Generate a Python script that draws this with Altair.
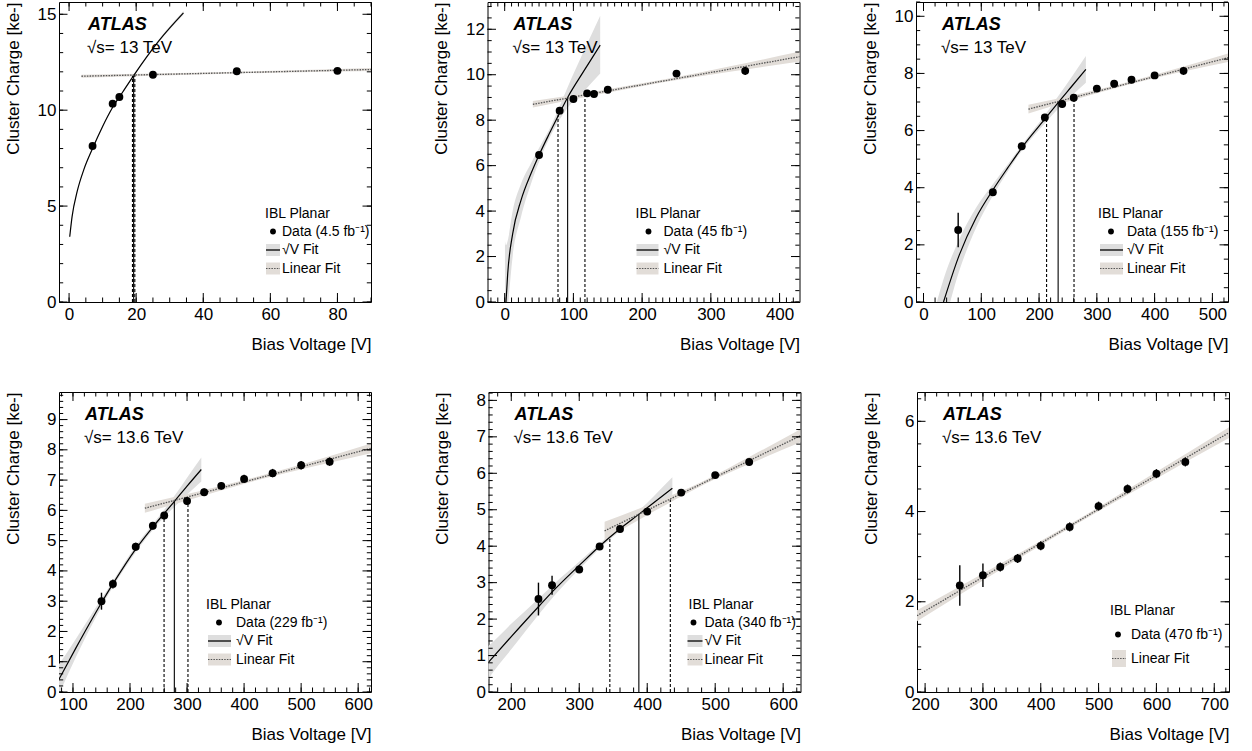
import altair as alt
import numpy as np
import pandas as pd

FONT = "Liberation Sans"
W, H = 312, 300
SQ_BAND = "#dedede"
LIN_BAND = "#e2ddd8"
LIN_LINE = "#555555"

# ---------------- Panel 1 (13 TeV, 4.5 fb-1) ----------------
P1_V = [7, 13, 15, 25, 50, 80]
P1_Q = [8.13, 10.34, 10.69, 11.85, 12.03, 12.05]
P1_ERR = [0.08, 0.08, 0.08, 0.08, 0.08, 0.08]
P1_SQ_V = [0.2, 0.9, 2.4, 4.4, 7, 10, 13, 16, 19.5, 26.7, 34.1]
P1_SQ_Q = [3.4, 4.45, 5.75, 6.9, 8.0, 9.15, 10.15, 10.95, 11.87, 13.6, 15.07]
P1_SQB_V = [0.2, 0.9, 2.4, 4.4, 7, 10, 13, 16, 19.5, 26.7, 34.1]
P1_SQB_LO = [3.3, 4.37, 5.69, 6.85, 7.96, 9.11, 10.11, 10.91, 11.82, 13.53, 14.97]
P1_SQB_HI = [3.5, 4.53, 5.81, 6.95, 8.04, 9.19, 10.19, 10.99, 11.92, 13.67, 15.17]
P1_LIN_V = [3.7, 90]
P1_LIN_Q = [11.77, 12.12]
P1_LINB_V = [3.7, 47, 90]
P1_LINB_LO = [11.69, 11.9, 12.04]
P1_LINB_HI = [11.85, 11.99, 12.2]
P1_VL_V = [18.9, 19.25, 19.6]
P1_VL_TOP = [11.8, 11.84, 11.85]
P1_VL_STYLE = ["dotted", "solid", "dotted"]

# ---------------- Panel 2 (13 TeV, 45 fb-1) ----------------
P2_V = [50, 80, 100, 120, 130, 150, 250, 350]
P2_Q = [6.47, 8.42, 8.93, 9.18, 9.15, 9.34, 10.05, 10.17]
P2_ERR = [0.1, 0.1, 0.1, 0.12, 0.1, 0.1, 0.12, 0.18]
P2_SQ_V = [1.9, 4.4, 11.6, 23.8, 38.3, 50.4, 65, 80.5, 91.6, 116, 139]
P2_SQ_Q = [0, 1.25, 3.0, 4.48, 5.65, 6.49, 7.41, 8.35, 9.0, 10.2, 11.3]
P2_SQB_V = [0.4, 1.9, 4.4, 11.6, 23.8, 38.3, 50.4, 65, 80.5, 91.6, 116, 139]
P2_SQB_LO = [-1.0, -1.0, -0.3, 2.0, 3.75, 5.2, 6.2, 7.2, 8.05, 8.55, 9.3, 10.05]
P2_SQB_HI = [2.7, 2.5, 2.7, 4.0, 5.2, 6.1, 6.8, 7.6, 8.65, 9.45, 11.1, 12.6]
P2_LIN_V = [41, 430]
P2_LIN_Q = [8.7, 10.8]
P2_LINB_V = [41, 140, 235, 330, 430]
P2_LINB_LO = [8.56, 9.15, 9.69, 10.14, 10.58]
P2_LINB_HI = [8.84, 9.31, 9.81, 10.38, 11.02]
P2_VL_V = [77.6, 91.6, 116.8]
P2_VL_TOP = [8.22, 9.02, 9.05]
P2_VL_STYLE = ["dotted", "solid", "dotted"]

# ---------------- Panel 3 (13 TeV, 155 fb-1) ----------------
P3_V = [60, 120, 170, 210, 240, 260, 300, 330, 360, 400, 450]
P3_Q = [2.52, 3.84, 5.45, 6.46, 6.93, 7.15, 7.47, 7.64, 7.78, 7.93, 8.09]
P3_ERR = [0.6, 0.1, 0.12, 0.12, 0.12, 0.12, 0.12, 0.12, 0.12, 0.12, 0.14]
P3_SQ_V = [34.6, 62, 91, 121, 146, 172, 212, 233, 257, 281]
P3_SQ_Q = [0, 1.65, 2.95, 3.95, 4.7, 5.45, 6.45, 6.98, 7.56, 8.14]
P3_SQB_V = [23, 34.6, 62, 91, 121, 146, 172, 212, 233, 257, 281]
P3_SQB_LO = [-1.5, -0.8, 1.1, 2.6, 3.75, 4.58, 5.35, 6.3, 6.76, 7.23, 7.67]
P3_SQB_HI = [0.0, 0.8, 2.2, 3.3, 4.15, 4.82, 5.55, 6.6, 7.2, 7.89, 8.61]
P3_LIN_V = [181.6, 527]
P3_LIN_Q = [6.75, 8.55]
P3_LINB_V = [181.6, 268, 354, 440, 527]
P3_LINB_LO = [6.6, 7.12, 7.6, 8.02, 8.4]
P3_LINB_HI = [6.9, 7.28, 7.7, 8.18, 8.7]
P3_VL_V = [213, 233, 260.5]
P3_VL_TOP = [6.45, 7.0, 7.15]
P3_VL_STYLE = ["dotted", "solid", "dotted"]

# ---------------- Panel 4 (13.6 TeV, 229 fb-1) ----------------
P4_V = [150, 170, 210, 240, 260, 300, 330, 360, 400, 450, 500, 550]
P4_Q = [3.0, 3.57, 4.8, 5.49, 5.83, 6.31, 6.6, 6.81, 7.04, 7.23, 7.49, 7.61]
P4_ERR = [0.28, 0.15, 0.13, 0.12, 0.12, 0.13, 0.12, 0.12, 0.14, 0.14, 0.14, 0.14]
P4_SQ_V = [70, 75.5, 105, 134, 150, 170, 210, 240, 260, 278, 300, 325]
P4_SQ_Q = [0.23, 0.42, 1.45, 2.43, 2.95, 3.57, 4.72, 5.45, 5.9, 6.3, 6.8, 7.35]
P4_SQB_V = [70, 75.5, 105, 134, 150, 170, 210, 240, 260, 278, 300, 325]
P4_SQB_LO = [-0.32, -0.08, 1.15, 2.25, 2.82, 3.47, 4.62, 5.35, 5.78, 6.12, 6.52, 6.95]
P4_SQB_HI = [0.78, 0.92, 1.75, 2.61, 3.08, 3.67, 4.82, 5.55, 6.02, 6.48, 7.08, 7.75]
P4_LIN_V = [226, 622.5]
P4_LIN_Q = [6.07, 8.05]
P4_LINB_V = [226, 325, 424, 523, 622.5]
P4_LINB_LO = [5.92, 6.47, 7.0, 7.46, 7.89]
P4_LINB_HI = [6.22, 6.65, 7.12, 7.64, 8.21]
P4_VL_V = [259.7, 277.7, 301.6]
P4_VL_TOP = [5.85, 6.33, 6.3]
P4_VL_STYLE = ["dotted", "solid", "dotted"]

# ---------------- Panel 5 (13.6 TeV, 340 fb-1) ----------------
P5_V = [240, 260, 300, 330, 360, 400, 450, 500, 550]
P5_Q = [2.55, 2.93, 3.36, 3.99, 4.47, 4.95, 5.47, 5.95, 6.31]
P5_ERR = [0.45, 0.26, 0.08, 0.08, 0.08, 0.08, 0.08, 0.08, 0.08]
P5_SQ_V = [160, 166.6, 200, 241, 262, 301.5, 331, 360, 388, 410, 437]
P5_SQ_Q = [0.68, 0.82, 1.52, 2.36, 2.78, 3.5, 4.02, 4.48, 4.88, 5.2, 5.59]
P5_SQB_V = [160, 166.6, 200, 241, 262, 301.5, 331, 360, 388, 410, 437]
P5_SQB_LO = [0.18, 0.37, 1.17, 2.14, 2.61, 3.4, 3.95, 4.42, 4.78, 5.02, 5.29]
P5_SQB_HI = [1.18, 1.27, 1.87, 2.58, 2.95, 3.6, 4.09, 4.54, 4.98, 5.38, 5.89]
P5_LIN_V = [337.3, 625.5]
P5_LIN_Q = [4.42, 7.03]
P5_LINB_V = [337.3, 409.3, 481.4, 553.4, 625.5]
P5_LINB_LO = [4.17, 4.95, 5.675, 6.28, 6.85]
P5_LINB_HI = [4.67, 5.19, 5.775, 6.48, 7.21]
P5_VL_V = [345, 387.7, 434]
P5_VL_TOP = [4.2, 4.88, 5.28]
P5_VL_STYLE = ["dotted", "solid", "dotted"]

# ---------------- Panel 6 (13.6 TeV, 470 fb-1) ----------------
P6_V = [260, 300, 330, 360, 400, 450, 500, 550, 600, 650]
P6_Q = [2.36, 2.59, 2.77, 2.96, 3.24, 3.66, 4.12, 4.5, 4.84, 5.1]
P6_ERR = [0.45, 0.26, 0.1, 0.1, 0.1, 0.1, 0.1, 0.1, 0.1, 0.1]
P6_LIN_V = [186, 725.5]
P6_LIN_Q = [1.69, 5.75]
P6_LINB_V = [186, 321, 456, 591, 725.5]
P6_LINB_LO = [1.57, 2.636, 3.682, 4.668, 5.63]
P6_LINB_HI = [1.81, 2.776, 3.762, 4.808, 5.87]

# ---------------- axes / labels ----------------
X_DOMAINS = [[-3, 90], [-25, 429], [-13, 527], [75.5, 622.5], [166.5, 625.5], [186, 725.5]]
Y_DOMAINS = [[0, 15.64], [0, 13.2], [0, 10.5], [0, 9.91], [0, 8.23], [0, 6.65]]
X_MAJOR = [[0, 20, 40, 60, 80], [0, 100, 200, 300, 400], [0, 100, 200, 300, 400, 500],
           [100, 200, 300, 400, 500, 600], [200, 300, 400, 500, 600], [200, 300, 400, 500, 600, 700]]
Y_MAJOR = [[0, 5, 10, 15], [0, 2, 4, 6, 8, 10, 12], [0, 2, 4, 6, 8, 10],
           [0, 1, 2, 3, 4, 5, 6, 7, 8, 9], [0, 1, 2, 3, 4, 5, 6, 7, 8], [0, 2, 4, 6]]
X_MINOR_STEP = [5, 10, 20, 20, 20, 20]
Y_MINOR_STEP = [1, 0.5, 0.5, 0.2, 0.2, 0.5]
ENERGY = ["13", "13", "13", "13.6", "13.6", "13.6"]
LUMI = ["4.5", "45", "155", "229", "340", "470"]

# legend placement (pixels inside plot area)
LEGEND = [
    dict(lx=206, dx=214, tx=223, bx=(207, 221), rows=(216, 234, 252, 271), bh=12),
    dict(lx=148, dx=161, tx=176, bx=(149, 171), rows=(216, 234, 252, 271), bh=12),
    dict(lx=182, dx=195, tx=211, bx=(184, 207), rows=(216, 234, 252, 271), bh=12),
    dict(lx=147, dx=160, tx=177, bx=(149, 172), rows=(217, 235, 253, 272), bh=12),
    dict(lx=200, dx=205, tx=216, bx=(199, 214), rows=(217, 235, 253, 272), bh=12),
    dict(lx=193, dx=201, tx=214, bx=(195, 209), rows=(223, 247, None, 271), bh=17),
]
ATLAS_X = [29, 26, 26, 26, 26, 26]

PANELS = [
    dict(v=P1_V, q=P1_Q, e=P1_ERR, sqv=P1_SQ_V, sqq=P1_SQ_Q, sqbv=P1_SQB_V, sqblo=P1_SQB_LO, sqbhi=P1_SQB_HI,
         linv=P1_LIN_V, linq=P1_LIN_Q, linbv=P1_LINB_V, linblo=P1_LINB_LO, linbhi=P1_LINB_HI,
         vlv=P1_VL_V, vlt=P1_VL_TOP, vls=P1_VL_STYLE),
    dict(v=P2_V, q=P2_Q, e=P2_ERR, sqv=P2_SQ_V, sqq=P2_SQ_Q, sqbv=P2_SQB_V, sqblo=P2_SQB_LO, sqbhi=P2_SQB_HI,
         linv=P2_LIN_V, linq=P2_LIN_Q, linbv=P2_LINB_V, linblo=P2_LINB_LO, linbhi=P2_LINB_HI,
         vlv=P2_VL_V, vlt=P2_VL_TOP, vls=P2_VL_STYLE),
    dict(v=P3_V, q=P3_Q, e=P3_ERR, sqv=P3_SQ_V, sqq=P3_SQ_Q, sqbv=P3_SQB_V, sqblo=P3_SQB_LO, sqbhi=P3_SQB_HI,
         linv=P3_LIN_V, linq=P3_LIN_Q, linbv=P3_LINB_V, linblo=P3_LINB_LO, linbhi=P3_LINB_HI,
         vlv=P3_VL_V, vlt=P3_VL_TOP, vls=P3_VL_STYLE),
    dict(v=P4_V, q=P4_Q, e=P4_ERR, sqv=P4_SQ_V, sqq=P4_SQ_Q, sqbv=P4_SQB_V, sqblo=P4_SQB_LO, sqbhi=P4_SQB_HI,
         linv=P4_LIN_V, linq=P4_LIN_Q, linbv=P4_LINB_V, linblo=P4_LINB_LO, linbhi=P4_LINB_HI,
         vlv=P4_VL_V, vlt=P4_VL_TOP, vls=P4_VL_STYLE),
    dict(v=P5_V, q=P5_Q, e=P5_ERR, sqv=P5_SQ_V, sqq=P5_SQ_Q, sqbv=P5_SQB_V, sqblo=P5_SQB_LO, sqbhi=P5_SQB_HI,
         linv=P5_LIN_V, linq=P5_LIN_Q, linbv=P5_LINB_V, linblo=P5_LINB_LO, linbhi=P5_LINB_HI,
         vlv=P5_VL_V, vlt=P5_VL_TOP, vls=P5_VL_STYLE),
    dict(v=P6_V, q=P6_Q, e=P6_ERR, sqv=None,
         linv=P6_LIN_V, linq=P6_LIN_Q, linbv=P6_LINB_V, linblo=P6_LINB_LO, linbhi=P6_LINB_HI,
         vlv=None),
]

ONE = pd.DataFrame({"a": [0]})


def minor_ticks(dom, step):
    start = np.ceil(dom[0] / step) * step
    vals = np.arange(start, dom[1] + 1e-9, step)
    return [float(round(v, 6)) for v in vals]


def make_panel(i):
    p = PANELS[i]
    xs = alt.Scale(domain=X_DOMAINS[i], nice=False, zero=False)
    ys = alt.Scale(domain=Y_DOMAINS[i], nice=False, zero=False)
    xax = alt.Axis(values=X_MAJOR[i], title="Bias Voltage [V]", grid=False, ticks=False, tickSize=0,
                   domain=False, labelFont=FONT, labelFontSize=17, labelColor="black", labelPadding=4,
                   labelFlush=False, labelOverlap=False, format="d",
                   titleFont=FONT, titleFontSize=17, titleFontWeight="normal", titleColor="black",
                   titleAnchor="end", titleBaseline="top", titleY=34)
    yax = alt.Axis(values=Y_MAJOR[i], title="Cluster Charge [ke-]", grid=False, ticks=False, tickSize=0,
                   domain=False, labelFont=FONT, labelFontSize=17, labelColor="black", labelPadding=3,
                   labelFlush=False, labelOverlap=False, format="d",
                   titleFont=FONT, titleFontSize=17, titleFontWeight="normal", titleColor="black",
                   titleAnchor="end", titleX=-37)

    def X(f):
        return alt.X(f"{f}:Q", scale=xs, axis=xax)

    def Y(f):
        return alt.Y(f"{f}:Q", scale=ys, axis=yax)

    layers = []
    # bands
    if p.get("sqv") is not None:
        dfb = pd.DataFrame({"V": p["sqbv"], "lo": p["sqblo"], "hi": p["sqbhi"]})
        layers.append(alt.Chart(dfb).mark_area(color=SQ_BAND, interpolate="monotone", clip=True,
                                               orient="vertical", opacity=1)
                      .encode(x=X("V"), y=Y("lo"), y2="hi:Q"))
    dfl = pd.DataFrame({"V": p["linbv"], "lo": p["linblo"], "hi": p["linbhi"]})
    layers.append(alt.Chart(dfl).mark_area(color=LIN_BAND, interpolate="monotone", clip=True,
                                           orient="vertical", opacity=1)
                  .encode(x=X("V"), y=Y("lo"), y2="hi:Q"))
    # vertical lines
    if p.get("vlv") is not None:
        dfv = pd.DataFrame({"V": p["vlv"], "top": p["vlt"], "style": p["vls"]})
        dfv["zero"] = 0.0
        layers.append(alt.Chart(dfv[dfv["style"] == "solid"]).mark_rule(color="black", strokeWidth=1.1)
                      .encode(x=X("V"), y=Y("zero"), y2="top:Q"))
        layers.append(alt.Chart(dfv[dfv["style"] == "dotted"]).mark_rule(color="black", strokeWidth=1.1,
                                                                          strokeDash=[3, 2])
                      .encode(x=X("V"), y=Y("zero"), y2="top:Q"))
    # fit lines
    if p.get("sqv") is not None:
        dfs = pd.DataFrame({"V": p["sqv"], "Q": p["sqq"]})
        layers.append(alt.Chart(dfs).mark_line(color="black", strokeWidth=1.2, interpolate="monotone", clip=True)
                      .encode(x=X("V"), y=Y("Q")))
    dfll = pd.DataFrame({"V": p["linv"], "Q": p["linq"]})
    layers.append(alt.Chart(dfll).mark_line(color=LIN_LINE, strokeWidth=1.3, strokeDash=[1.5, 1.2], clip=True)
                  .encode(x=X("V"), y=Y("Q")))
    # data points
    dfp = pd.DataFrame({"V": p["v"], "Q": p["q"], "E": p["e"]})
    dfp["lo"] = dfp["Q"] - dfp["E"]
    dfp["hi"] = dfp["Q"] + dfp["E"]
    layers.append(alt.Chart(dfp).mark_rule(color="black", strokeWidth=1.4).encode(x=X("V"), y=Y("lo"), y2="hi:Q"))
    layers.append(alt.Chart(dfp).mark_circle(color="black", size=62, opacity=1).encode(x=X("V"), y=Y("Q")))

    # inward tick marks
    xmaj = pd.DataFrame({"t": X_MAJOR[i]})
    xmin = pd.DataFrame({"t": minor_ticks(X_DOMAINS[i], X_MINOR_STEP[i])})
    ymaj = pd.DataFrame({"t": Y_MAJOR[i]})
    ymin = pd.DataFrame({"t": minor_ticks(Y_DOMAINS[i], Y_MINOR_STEP[i])})
    for df, ln in ((xmaj, 9), (xmin, 4.5)):
        layers.append(alt.Chart(df).mark_rule(color="black", strokeWidth=1)
                      .encode(x=X("t"), y=alt.value(H), y2=alt.value(H - ln)))
        layers.append(alt.Chart(df).mark_rule(color="black", strokeWidth=1)
                      .encode(x=X("t"), y=alt.value(0), y2=alt.value(ln)))
    for df, ln in ((ymaj, 8.5), (ymin, 4.2)):
        layers.append(alt.Chart(df).mark_rule(color="black", strokeWidth=1)
                      .encode(y=Y("t"), x=alt.value(0), x2=alt.value(ln)))
        layers.append(alt.Chart(df).mark_rule(color="black", strokeWidth=1)
                      .encode(y=Y("t"), x=alt.value(W - ln), x2=alt.value(W)))

    # ATLAS label
    ax = ATLAS_X[i]
    layers.append(alt.Chart(ONE).mark_text(font=FONT, fontSize=18, fontWeight="bold", fontStyle="italic",
                                           align="left", baseline="alphabetic", color="black")
                  .encode(x=alt.value(ax), y=alt.value(28), text=alt.value("ATLAS")))
    layers.append(alt.Chart(ONE).mark_text(font=FONT, fontSize=17, align="left", baseline="alphabetic",
                                           color="black")
                  .encode(x=alt.value(ax - 1), y=alt.value(51), text=alt.value(f"\u221as= {ENERGY[i]} TeV")))

    # legend
    lg = LEGEND[i]
    r_ibl, r_data, r_sq, r_lin = lg["rows"]
    bx0, bx1 = lg["bx"]
    bh = lg["bh"]
    txt = dict(font=FONT, fontSize=14, align="left", baseline="alphabetic", color="black")
    layers.append(alt.Chart(ONE).mark_text(**txt)
                  .encode(x=alt.value(lg["lx"]), y=alt.value(r_ibl), text=alt.value("IBL Planar")))
    layers.append(alt.Chart(ONE).mark_circle(color="black", size=34, opacity=1)
                  .encode(x=alt.value(lg["dx"]), y=alt.value(r_data - 4.5)))
    layers.append(alt.Chart(ONE).mark_text(**txt)
                  .encode(x=alt.value(lg["tx"]), y=alt.value(r_data),
                          text=alt.value(f"Data ({LUMI[i]} fb\u207b\u00b9)")))
    if r_sq is not None:
        c = r_sq - 4
        layers.append(alt.Chart(ONE).mark_rect(color=SQ_BAND)
                      .encode(x=alt.value(bx0), x2=alt.value(bx1), y=alt.value(c - bh / 2), y2=alt.value(c + bh / 2)))
        layers.append(alt.Chart(ONE).mark_rule(color="black", strokeWidth=1.3)
                      .encode(x=alt.value(bx0), x2=alt.value(bx1), y=alt.value(c)))
        layers.append(alt.Chart(ONE).mark_text(**txt)
                      .encode(x=alt.value(lg["tx"]), y=alt.value(r_sq), text=alt.value("\u221aV Fit")))
    c = r_lin - 4.5
    layers.append(alt.Chart(ONE).mark_rect(color=LIN_BAND)
                  .encode(x=alt.value(bx0), x2=alt.value(bx1), y=alt.value(c - bh / 2), y2=alt.value(c + bh / 2)))
    layers.append(alt.Chart(ONE).mark_rule(color=LIN_LINE, strokeWidth=1.2, strokeDash=[1.5, 1.2])
                  .encode(x=alt.value(bx0), x2=alt.value(bx1), y=alt.value(c)))
    layers.append(alt.Chart(ONE).mark_text(**txt)
                  .encode(x=alt.value(lg["tx"]), y=alt.value(r_lin), text=alt.value("Linear Fit")))

    return alt.layer(*layers).properties(width=W, height=H)


row1 = alt.hconcat(make_panel(0), make_panel(1), make_panel(2), spacing=59.5)
row2 = alt.hconcat(make_panel(3), make_panel(4), make_panel(5), spacing=59.5)
chart = (
    alt.vconcat(row1, row2, spacing=37)
    .properties(padding={"left": 3, "top": 1, "right": 5, "bottom": 5}, background="white")
    .configure_view(stroke="black", strokeWidth=1)
)

chart.save("out.html", embed_options={"renderer": "svg", "actions": False})
